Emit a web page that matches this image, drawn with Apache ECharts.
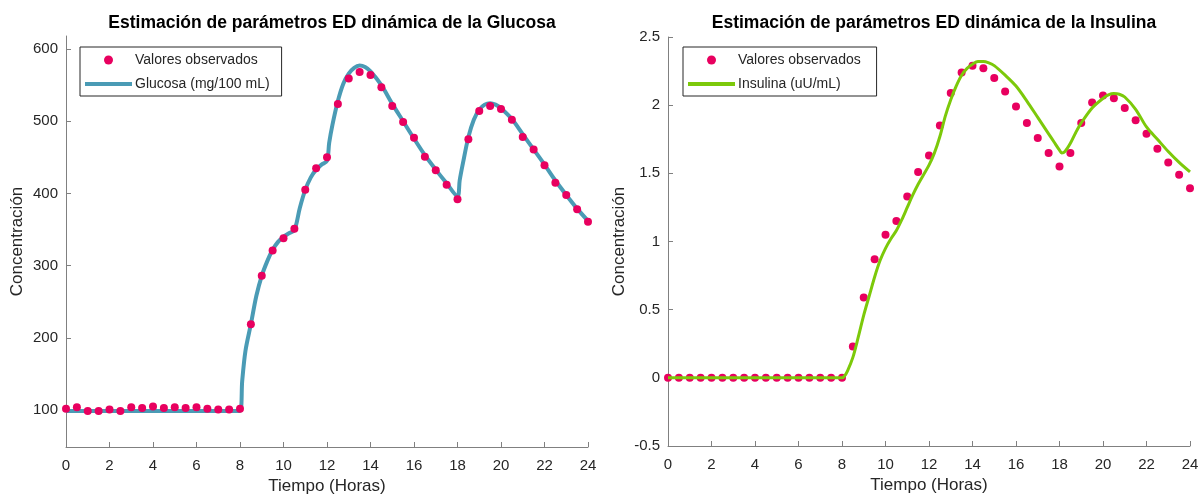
<!DOCTYPE html>
<html>
<head>
<meta charset="utf-8">
<script src="https://cdn.jsdelivr.net/npm/echarts@6/dist/echarts.min.js"></script>
<style>
  html, body { margin: 0; padding: 0; background: #fff; }
  #chart { width: 1199px; height: 496px; }
</style>
</head>
<body>
<div id="chart"></div>
<script>
// horas de observacion (cada media hora)
var obsHoras = [0,0.5,1,1.5,2,2.5,3,3.5,4,4.5,5,5.5,6,6.5,7,7.5,8,8.5,9,9.5,10,10.5,11,11.5,12,
    12.5,13,13.5,14,14.5,15,15.5,16,16.5,17,17.5,18,18.5,19,19.5,20,20.5,21,21.5,22,22.5,23,23.5,24];

var glucosaObs = [102,104,99,99,101,99,104,103,105,103,104,103,104,102,101,101,102,219,286,321,338,351,405,435,450,
    524,559,568,564,547,521,499,477,451,432,412,392,475,514,521,517,502,478,461,439,415,398,378,361];

var insulinaObs = [0,0,0,0,0,0,0,0,0,0,0,0,0,0,0,0,0,0.23,0.59,0.87,1.05,1.15,1.33,1.51,1.63,
    1.85,2.09,2.24,2.29,2.27,2.2,2.1,1.99,1.87,1.76,1.65,1.55,1.65,1.87,2.02,2.07,2.05,1.98,1.89,1.79,1.68,1.58,1.49,1.39];

// curva del modelo (glucosa)
var glucosaHoras = [0,2,4,6,8,8.1,8.25,8.5,8.75,9,9.25,9.5,9.75,10,10.25,10.5,10.75,11,11.25,11.5,11.75,12,12.1,12.25,12.5,12.75,
    13,13.25,13.5,13.75,14,14.5,15,15.5,16,16.5,17,17.5,18,18.1,18.25,18.5,18.75,19,19.25,19.5,19.75,20,20.5,21,21.5,22,22.5,23,23.5,24];
var glucosaModelo = [99,99,99,99,99,140,182,219,258,286,306,322,333,340,345,349,380,405,422,433,440,445,470,495,528,552,
    566,574,577,575,569,550,524,500,476,453,433,414,396,418,442,478,502,516,523,525,523,518,503,482,461,440,418,398,379,362];

// curva del modelo (insulina)
var insulinaHoras = [0,2,4,6,8,8.1,8.25,8.5,8.75,9,9.25,9.5,9.75,10,10.25,10.5,10.75,11,11.25,11.5,11.75,12,12.25,12.5,12.75,
    13,13.25,13.5,13.75,14,14.25,14.5,14.75,15,15.5,16,16.5,17,17.5,17.75,18,18.1,18.25,18.5,18.75,19,19.5,20,20.25,20.5,20.75,21,21.5,22,22.5,23,23.5,24];
var insulinaModelo = [0,0,0,0,0,0.01,0.05,0.15,0.3,0.46,0.6,0.74,0.86,0.95,1.02,1.08,1.16,1.25,1.34,1.42,1.49,1.56,1.65,1.77,1.92,
    2.04,2.14,2.22,2.27,2.3,2.32,2.32,2.31,2.29,2.22,2.14,2.03,1.91,1.79,1.73,1.67,1.65,1.66,1.72,1.8,1.87,1.98,2.05,2.075,2.085,2.08,2.06,1.97,1.84,1.75,1.66,1.58,1.51];

var glucosaTicks = [100,200,300,400,500,600];

function pares(xs, ys) {
    return xs.map(function (x, i) { return [x, ys[i]]; });
}

var fuente = '"Liberation Sans", Arial, sans-serif';
var colorPunto = '#e8005f';
var colorEje = '#808080';
var colorTexto = '#262626';
var iconoLinea = 'path://M0 0 H47 V4 H0 Z';

function ejeX(idx) {
    return {
        type: 'value', gridIndex: idx, min: 0, max: 24, interval: 2,
        name: 'Tiempo (Horas)', nameLocation: 'middle', nameGap: 30,
        nameTextStyle: {fontFamily: fuente, fontSize: 17, color: colorTexto},
        axisLine: {onZero: false, lineStyle: {color: colorEje, width: 1}},
        axisTick: {inside: true, length: 5, lineStyle: {color: colorEje}},
        axisLabel: {fontFamily: fuente, fontSize: 15, color: colorTexto, margin: 11},
        splitLine: {show: false}
    };
}

function ejeY(idx, extra) {
    var eje = {
        type: 'value', gridIndex: idx,
        name: 'Concentración', nameLocation: 'middle', nameGap: 40,
        nameTextStyle: {fontFamily: fuente, fontSize: 17, color: colorTexto},
        axisLine: {show: true, onZero: false, lineStyle: {color: colorEje, width: 1}},
        axisTick: {show: true, inside: true, length: 5, lineStyle: {color: colorEje}},
        axisLabel: {fontFamily: fuente, fontSize: 15, color: colorTexto, margin: 8},
        splitLine: {show: false}
    };
    for (var k in extra) eje[k] = extra[k];
    return eje;
}

function leyenda(nombres, izq) {
    return {
        data: [{name: nombres[0], icon: 'circle'}, {name: nombres[1], icon: iconoLinea}],
        orient: 'vertical', left: izq, top: 47,
        itemWidth: 47, itemHeight: 9, itemGap: 10,
        padding: [6, 12, 5, 5],
        borderColor: colorTexto, borderWidth: 1,
        textStyle: {fontFamily: fuente, fontSize: 14, color: colorTexto, padding: [0, 0, 0, -2]}
    };
}

var chart = echarts.init(document.getElementById('chart'));
var option = {
    animation: false,
    backgroundColor: '#fff',
    title: [
        {text: 'Estimación de parámetros ED dinámica de la Glucosa', left: 327, top: 9, textAlign: 'center',
            textStyle: {fontFamily: fuente, fontSize: 17.5, fontWeight: 'bold', color: '#000'}},
        {text: 'Estimación de parámetros ED dinámica de la Insulina', left: 929, top: 9, textAlign: 'center',
            textStyle: {fontFamily: fuente, fontSize: 17.5, fontWeight: 'bold', color: '#000'}}
    ],
    legend: [
        leyenda(['Valores observados', 'Glucosa (mg/100 mL)'], 80),
        leyenda(['Valores observados ', 'Insulina (uU/mL)'], 683)
    ],
    grid: [
        {left: 66, right: 611, top: 36, bottom: 49, outerBoundsMode: 'none'},
        {left: 668, right: 9, top: 37, bottom: 50, outerBoundsMode: 'none'}
    ],
    xAxis: [ejeX(0), ejeX(1)],
    yAxis: [
        ejeY(0, {min: 49, max: 618}),
        ejeY(1, {min: -0.5, max: 2.5, interval: 0.5})
    ],
    series: [
        {
            name: 'Glucosa (mg/100 mL)', type: 'line', xAxisIndex: 0, yAxisIndex: 0,
            data: pares(glucosaHoras, glucosaModelo), smooth: 0.3, symbol: 'none',
            lineStyle: {color: '#4a9bb5', width: 4}, itemStyle: {color: '#4a9bb5'}, z: 2
        },
        {
            name: 'Valores observados', type: 'scatter', xAxisIndex: 0, yAxisIndex: 0,
            data: pares(obsHoras, glucosaObs), symbolSize: 8,
            itemStyle: {color: colorPunto, opacity: 1}, z: 3
        },
        {
            name: 'Valores observados ', type: 'scatter', xAxisIndex: 1, yAxisIndex: 1,
            data: pares(obsHoras, insulinaObs), symbolSize: 8,
            itemStyle: {color: colorPunto, opacity: 1}, z: 2
        },
        {
            name: 'Insulina (uU/mL)', type: 'line', xAxisIndex: 1, yAxisIndex: 1,
            data: pares(insulinaHoras, insulinaModelo), smooth: 0.3, symbol: 'none',
            lineStyle: {color: '#7cc90a', width: 3}, itemStyle: {color: '#7cc90a'}, z: 3
        }
    ]
};
// marcas de 100 en 100 para la glucosa (el eje no arranca en un multiplo)
option.yAxis[0].axisTick.customValues = glucosaTicks;
option.yAxis[0].axisLabel.customValues = glucosaTicks;
chart.setOption(option);
</script>
</body>
</html>
